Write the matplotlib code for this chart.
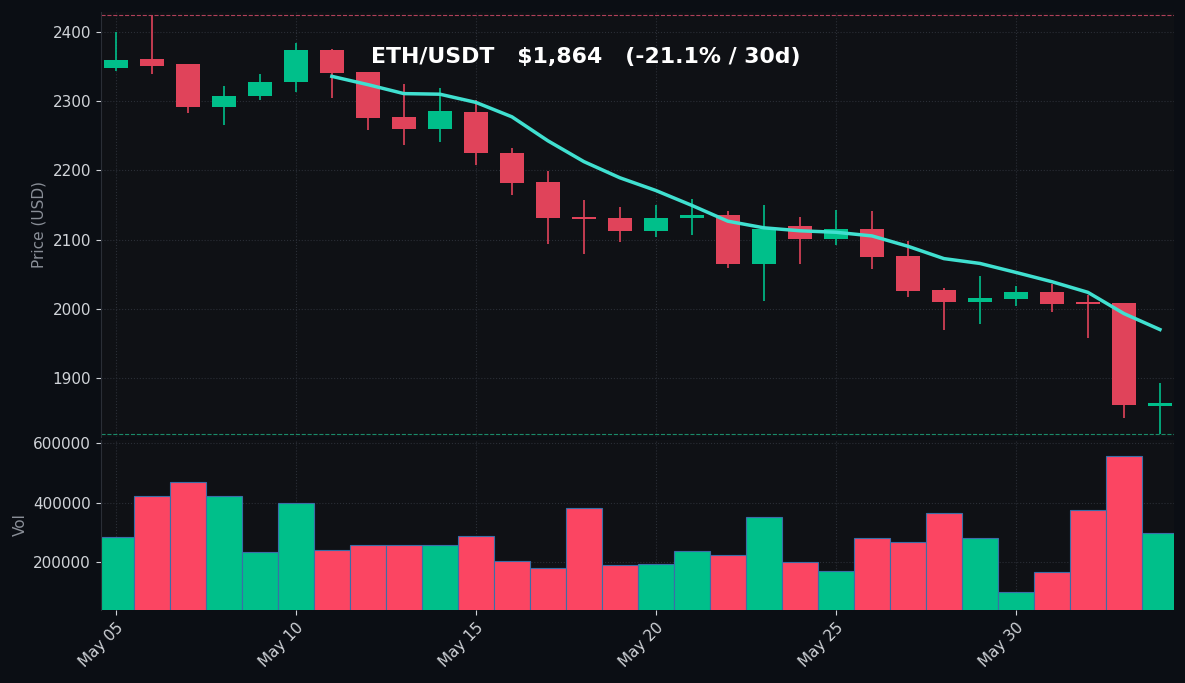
import matplotlib
matplotlib.use("Agg")
import matplotlib.pyplot as plt
import matplotlib.dates as mdates
import numpy as np
import pandas as pd

dates = pd.date_range("2024-05-05", periods=30, freq="D")
opens = [2348, 2362, 2354, 2292, 2308, 2328, 2374, 2342, 2277, 2260, 2285, 2226, 2183, 2132, 2131,
         2112, 2131, 2135, 2065, 2119, 2101, 2115, 2076, 2027, 2010, 2014, 2024, 2009, 2008, 1859]
closes = [2360, 2351, 2292, 2308, 2328, 2374, 2341, 2276, 2260, 2286, 2225, 2182, 2131, 2130, 2112,
          2131, 2135, 2065, 2115, 2101, 2115, 2075, 2026, 2010, 2016, 2024, 2007, 2007, 1860, 1864]
highs = [2400, 2425, 2354, 2322, 2339, 2384, 2376, 2342, 2325, 2320, 2302, 2232, 2199, 2157, 2147,
         2150, 2159, 2141, 2150, 2133, 2143, 2141, 2098, 2030, 2047, 2033, 2036, 2020, 2008, 1893]
lows = [2344, 2339, 2283, 2266, 2302, 2313, 2305, 2258, 2237, 2241, 2208, 2164, 2094, 2079, 2097,
        2104, 2106, 2059, 2011, 2065, 2092, 2057, 2017, 1969, 1978, 2004, 1995, 1958, 1841, 1818]
volumes = [286000, 422000, 469000, 422000, 234000, 400000, 240000, 257000, 260000, 260000,
           290000, 203000, 180000, 383000, 190000, 193000, 237000, 224000, 353000, 200000,
           170000, 282000, 270000, 366000, 282000, 101000, 166000, 376000, 557000, 299000]

GREEN = "#00bf8a"
RED = "#e0435a"
VRED = "#fb4562"
BG = "#0b0e14"
AX = "#0f1115"

fig = plt.figure(figsize=(11.85, 6.83), dpi=100, facecolor=BG)
ax = fig.add_axes([0.085, 0.360, 0.906, 0.622], facecolor=AX)
axv = fig.add_axes([0.085, 0.107, 0.906, 0.249], facecolor=AX, sharex=ax)

x = mdates.date2num(dates)
o = np.array(opens); c = np.array(closes); h = np.array(highs); l = np.array(lows)
up = c >= o
cols = np.where(up, GREEN, RED)
ax.vlines(x, l, h, colors=cols, linewidth=1.2, zorder=2)
bottoms = np.minimum(o, c)
heights = np.maximum(np.abs(c - o), 1.5)
ax.bar(x, heights, bottom=bottoms, width=0.68, color=cols, zorder=3)

ma = pd.Series(closes).rolling(7).mean()
ax.plot(x, ma, color="#40e0d0", linewidth=2.5, zorder=4)

ax.axhline(max(highs), color="#b0405a", linestyle="--", linewidth=0.8)
ax.axhline(min(lows), color="#1a8a6a", linestyle="--", linewidth=0.8)

ax.set_ylim(1814, 2429)
ax.set_xlim(x[0] - 0.42, x[-1] + 0.4)
ax.set_ylabel("Price (USD)", color="#8a8f98", fontsize=11)
ax.text(0.252, 0.894, "ETH/USDT   $1,864   (-21.1% / 30d)", transform=ax.transAxes,
        color="white", fontsize=15.8, fontweight="bold", va="center", ha="left")

vcols = np.where(up, GREEN, VRED)
axv.bar(x, volumes, width=1.0, color=vcols, edgecolor="#3a6ea8", linewidth=0.8)
axv.set_ylim(40000, 612000)
axv.set_yticks([200000, 400000, 600000])
axv.set_ylabel("Vol", color="#8a8f98", fontsize=11)

ticks = mdates.date2num(pd.date_range("2024-05-05", periods=6, freq="5D"))
axv.set_xticks(ticks)
axv.xaxis.set_major_formatter(mdates.DateFormatter("%b %d"))
plt.setp(axv.get_xticklabels(), rotation=45, ha="right", rotation_mode="anchor")
plt.setp(ax.get_xticklabels(), visible=False)

for a in (ax, axv):
    a.grid(True, color="#2a2e36", linestyle=":", linewidth=0.8)
    a.set_axisbelow(True)
    a.tick_params(colors="#d0d3d8", labelsize=11)
    for s in a.spines.values():
        s.set_visible(False)
    a.spines["left"].set_visible(True)
    a.spines["left"].set_color("#2a2e36")
ax.tick_params(axis="x", length=0)

fig.savefig("out.png", dpi=100, facecolor=BG)
